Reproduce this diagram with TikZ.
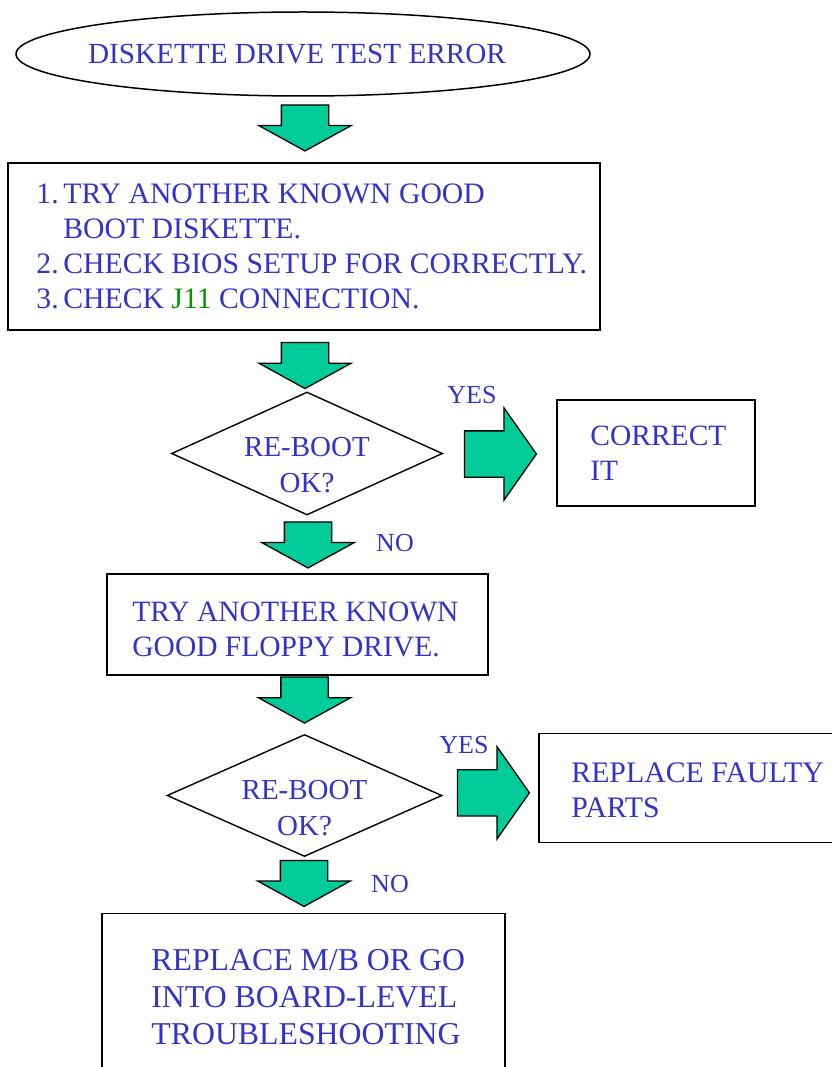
\documentclass[tikz,border=0pt]{standalone}
\usepackage{fontspec}
\setmainfont{Liberation Serif}
\usetikzlibrary{shapes.geometric,shapes.arrows,calc}
\definecolor{txtblue}{RGB}{51,51,204}
\definecolor{arrgreen}{RGB}{0,204,153}
\definecolor{jgreen}{RGB}{0,150,0}
\newcommand{\stepno}[1]{\makebox[27pt][l]{#1.}}

\begin{document}
\begin{tikzpicture}[
  x=1pt, y=-1pt,
  box/.style={rectangle, draw=black, line width=1.6pt, inner sep=0pt},
  boxtext/.style={anchor=west, inner sep=0pt, align=left, text=txtblue, font=\fontsize{29.5}{35}\selectfont\frenchspacing},
  decision/.style={diamond, draw=black, line width=1.4pt, inner sep=0pt},
  qtext/.style={align=center, inner sep=0pt, text=txtblue, font=\fontsize{29}{36}\selectfont},
  dnarrow/.style={single arrow, draw=black, line width=1.3pt, fill=arrgreen, inner xsep=0pt, inner ysep=23pt, single arrow head extend=22.5pt, single arrow tip angle=122.4, minimum height=46pt, rotate=-90, anchor=tip},
  rtarrow/.style={single arrow, draw=black, line width=1.3pt, fill=arrgreen, inner xsep=0pt, inner ysep=22.5pt, single arrow head extend=23pt, single arrow tip angle=109.8, minimum height=72pt, anchor=tip},
  lbl/.style={inner sep=0pt, text=txtblue, font=\fontsize{26}{30}\selectfont}
]
  \useasboundingbox (0,0) rectangle (831,1067);

  % Inicio
  \node[ellipse, draw=black, line width=1.5pt, minimum width=574pt, minimum height=84pt, inner sep=0pt] (start) at (303,54) {};
  \node[inner sep=0pt, text=txtblue, font=\fontsize{29.2}{35}\selectfont] (startt) at ($(start.center)+(-6,0)$) {DISKETTE DRIVE TEST ERROR};

  % Cajas
  \node[box, minimum width=592pt, minimum height=167pt] (steps) at (304,246.5) {};
  \node[boxtext, font=\fontsize{29.7}{35}\selectfont\frenchspacing] (stepst) at ($(steps.west)+(29,0)$) {\stepno{1}TRY ANOTHER KNOWN GOOD\\\makebox[27pt]{}BOOT DISKETTE.\\\stepno{2}CHECK BIOS SETUP FOR CORRECTLY.\\\stepno{3}CHECK \textcolor{jgreen}{J11} CONNECTION.};
  \node[box, minimum width=198pt, minimum height=106pt] (corr) at (656,453) {};
  \node[boxtext] (corrt) at ($(corr.west)+(34,0)$) {CORRECT\\IT};
  \node[box, minimum width=381pt, minimum height=101pt] (floppy) at (297.5,624.5) {};
  \node[boxtext] (floppyt) at ($(floppy.west)+(26,5)$) {TRY ANOTHER KNOWN\\GOOD FLOPPY DRIVE.};
  \node[box, minimum width=318pt, minimum height=109pt] (repl) at (698,787.8) {};
  \node[boxtext, font=\fontsize{29.8}{35}\selectfont] (replt) at ($(repl.west)+(33,2.5)$) {REPLACE FAULTY\\PARTS};
  \node[box, minimum width=403pt, minimum height=167pt] (mb) at (303.5,997) {};
  \node[boxtext, font=\fontsize{31.8}{37}\selectfont] (mbt) at ($(mb.west)+(50,0)$) {REPLACE M/B OR GO\\INTO BOARD-LEVEL\\TROUBLESHOOTING};

  % Decisiones
  \node[decision, minimum width=271pt, minimum height=123pt] (dec1) at (307,453.5) {};
  \node[qtext] (dec1q) at ($(dec1.center)+(0,12)$) {RE-BOOT\\OK?};
  \node[decision, minimum width=275pt, minimum height=122pt] (dec2) at (304.5,795.5) {};
  \node[qtext] (dec2q) at ($(dec2.center)+(0,12.5)$) {RE-BOOT\\OK?};

  % Flechas de bloque
  \node[dnarrow] (a1) at ($(steps.north)+(1,-10.5)$) {};
  \node[dnarrow] (a2) at ($(dec1.north)+(-2,-2)$) {};
  \node[dnarrow] (a3) at ($(dec1.south)+(1,53)$) {};
  \node[dnarrow] (a4) at ($(dec2.north)+(0,-10)$) {};
  \node[dnarrow] (a5) at ($(mb.north)+(0.5,-5.5)$) {};
  \node[rtarrow] (y1) at ($(corr.west)+(-19,1)$) {};
  \node[rtarrow] (y2) at ($(repl.west)+(-8,5)$) {};

  % Etiquetas
  \node[lbl] (yes1) at (472,395.5) {YES};
  \node[lbl] (no1) at (395,543) {NO};
  \node[lbl] (yes2) at (464,745) {YES};
  \node[lbl] (no2) at (390,884) {NO};
\end{tikzpicture}
\end{document}
